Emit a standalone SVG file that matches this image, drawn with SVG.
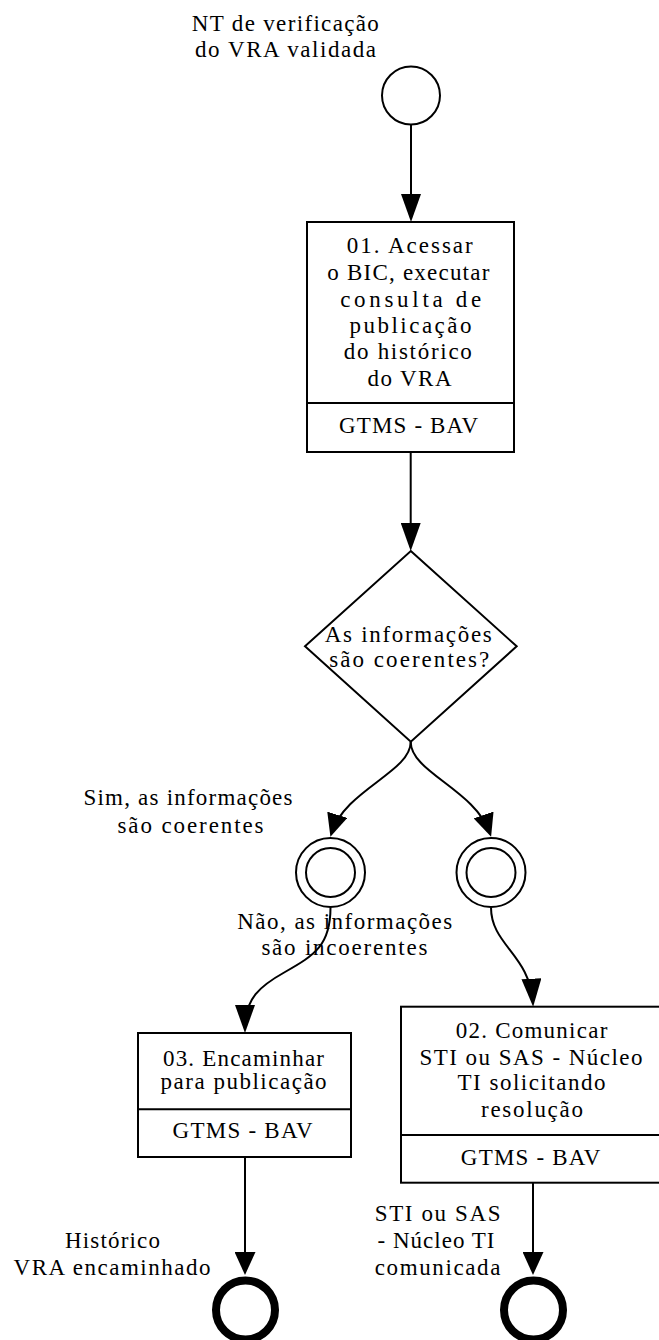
<svg xmlns="http://www.w3.org/2000/svg" width="659" height="1340" viewBox="0 0 659 1340">
<style>
  .t { font-family: "Liberation Serif", "Times New Roman", serif; font-size: 23px; fill: #000; text-anchor: middle; }
  .shape { fill: #fff; stroke: #000; stroke-width: 2; }
  .line { fill: none; stroke: #000; stroke-width: 2; }
  .edge { fill: none; stroke: #000; stroke-width: 2; }
  .endev { fill: none; stroke: #000; stroke-width: 8; }
</style>
<defs>
  <marker id="arrL" markerUnits="userSpaceOnUse" viewBox="0 0 28 20" markerWidth="28" markerHeight="20" refX="24" refY="10" orient="auto">
    <path d="M0,0 L28,10 L0,20 z" fill="#000"/>
  </marker>
  <marker id="arrS" markerUnits="userSpaceOnUse" viewBox="0 0 23 21" markerWidth="23" markerHeight="21" refX="19" refY="10.5" orient="auto">
    <path d="M0,0 L23,10.5 L0,21 z" fill="#000"/>
  </marker>
</defs>

<g id="connectors">
  <path class="edge" d="M411,125 L411,218" marker-end="url(#arrL)"/>
  <path class="edge" d="M410.7,452 L410.7,547" marker-end="url(#arrL)"/>
  <path class="edge" d="M410.7,742 C410.7,772 345,790 331.6,832.9" marker-end="url(#arrS)"/>
  <path class="edge" d="M410.7,742 C410.7,772 475,790 489.8,832.9" marker-end="url(#arrS)"/>
  <path class="edge" d="M330.5,907.5 C330.5,945 315,955 285,972 C260,986 245,998 245,1029" marker-end="url(#arrL)"/>
  <path class="edge" d="M491,907.5 C491,945 530,955 532.9,1002.7" marker-end="url(#arrL)"/>
  <path class="edge" d="M245,1157 L245,1271" marker-end="url(#arrS)"/>
  <path class="edge" d="M533,1183 L533,1271" marker-end="url(#arrS)"/>
</g>

<g id="start">
  <circle class="shape" cx="411" cy="95.5" r="29"/>
  <text class="t" x="285.3" y="31" textLength="187" lengthAdjust="spacing">NT de verificação</text>
  <text class="t" x="285.5" y="57" textLength="181" lengthAdjust="spacing">do VRA validada</text>
</g>

<g id="task01">
  <rect class="shape" x="307" y="222" width="207" height="230"/>
  <line class="line" x1="307" y1="403" x2="514" y2="403"/>
  <text class="t" x="409.7" y="253" textLength="126" lengthAdjust="spacing">01. Acessar</text>
  <text class="t" x="408.3" y="280" textLength="162" lengthAdjust="spacing">o BIC, executar</text>
  <text class="t" x="410.7" y="306.5" textLength="141" lengthAdjust="spacing">consulta de</text>
  <text class="t" x="410.5" y="332.5" textLength="122" lengthAdjust="spacing">publicação</text>
  <text class="t" x="407.8" y="359" textLength="128" lengthAdjust="spacing">do histórico</text>
  <text class="t" x="409.5" y="385.5" textLength="84" lengthAdjust="spacing">do VRA</text>
  <text class="t" x="408.5" y="433" textLength="139" lengthAdjust="spacing">GTMS - BAV</text>
</g>

<g id="gateway">
  <polygon class="shape" points="410.8,551 516.7,646.3 410.8,741.7 305,646.3"/>
  <text class="t" x="408.3" y="641.7" textLength="167" lengthAdjust="spacing">As informações</text>
  <text class="t" x="409.3" y="666.7" textLength="160" lengthAdjust="spacing">são coerentes?</text>
</g>

<g id="event-sim">
  <circle class="shape" cx="330.5" cy="872.5" r="34.5"/>
  <circle class="shape" cx="330.5" cy="872.5" r="24.5"/>
  <text class="t" x="188" y="805" textLength="209" lengthAdjust="spacing">Sim, as informações</text>
  <text class="t" x="190.5" y="832.7" textLength="146" lengthAdjust="spacing">são coerentes</text>
</g>

<g id="event-nao">
  <circle class="shape" cx="491" cy="872.5" r="34.5"/>
  <circle class="shape" cx="491" cy="872.5" r="24.5"/>
</g>

<g id="label-nao">
  <text class="t" x="344.7" y="929.3" textLength="215" lengthAdjust="spacing">Não, as informações</text>
  <text class="t" x="344.4" y="955" textLength="166" lengthAdjust="spacing">são incoerentes</text>
</g>

<g id="task03">
  <rect class="shape" x="138" y="1033" width="213" height="124"/>
  <line class="line" x1="138" y1="1109.3" x2="351" y2="1109.3"/>
  <text class="t" x="243.5" y="1066" textLength="161" lengthAdjust="spacing">03. Encaminhar</text>
  <text class="t" x="243.6" y="1089" textLength="166" lengthAdjust="spacing">para publicação</text>
  <text class="t" x="242.5" y="1138.3" textLength="140" lengthAdjust="spacing">GTMS - BAV</text>
</g>

<g id="task02">
  <rect class="shape" x="401" y="1006.7" width="265" height="176"/>
  <line class="line" x1="401" y1="1135" x2="666" y2="1135"/>
  <text class="t" x="531.5" y="1038" textLength="151.6" lengthAdjust="spacing">02. Comunicar</text>
  <text class="t" x="531" y="1065" textLength="223" lengthAdjust="spacing">STI ou SAS - Núcleo</text>
  <text class="t" x="531.5" y="1090" textLength="148" lengthAdjust="spacing">TI solicitando</text>
  <text class="t" x="532" y="1116.7" textLength="102" lengthAdjust="spacing">resolução</text>
  <text class="t" x="530.6" y="1165" textLength="139.5" lengthAdjust="spacing">GTMS - BAV</text>
</g>

<g id="end-encaminhado">
  <circle class="endev" cx="245.5" cy="1310" r="29.5"/>
  <text class="t" x="112.5" y="1248" textLength="95" lengthAdjust="spacing">Histórico</text>
  <text class="t" x="112" y="1275" textLength="197" lengthAdjust="spacing">VRA encaminhado</text>
</g>

<g id="end-comunicada">
  <circle class="endev" cx="533.5" cy="1310" r="29.5"/>
  <text class="t" x="437.6" y="1221" textLength="125.7" lengthAdjust="spacing">STI ou SAS</text>
  <text class="t" x="436" y="1248" textLength="117" lengthAdjust="spacing">- Núcleo TI</text>
  <text class="t" x="437.6" y="1275" textLength="125.7" lengthAdjust="spacing">comunicada</text>
</g>
</svg>
